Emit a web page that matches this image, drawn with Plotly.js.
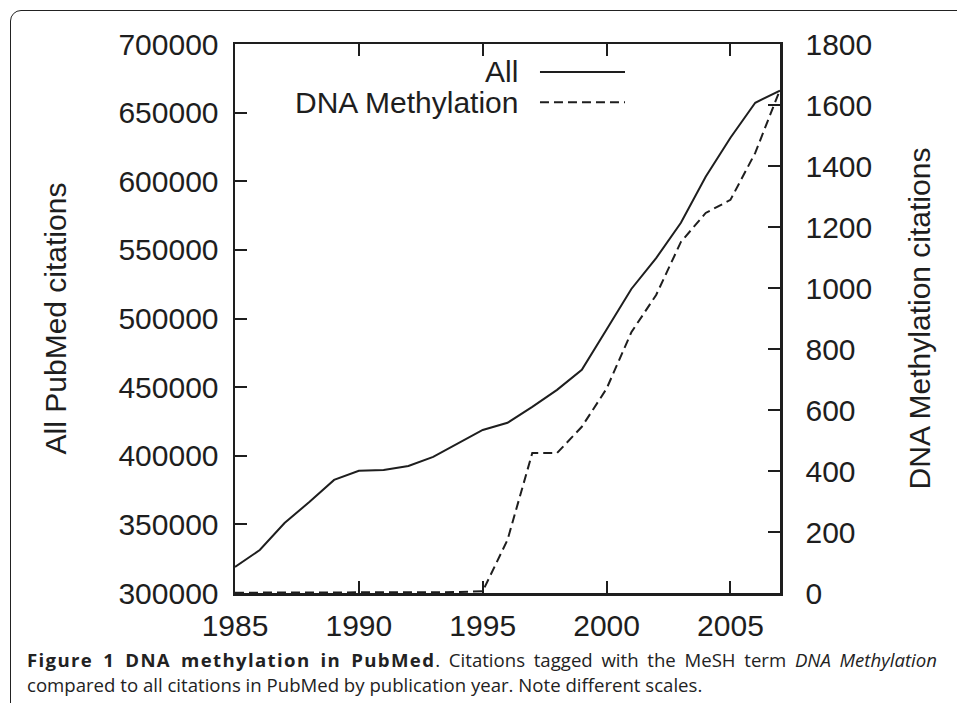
<!DOCTYPE html>
<html>
<head>
<meta charset="utf-8">
<script src="https://cdn.plot.ly/plotly-3.0.1.min.js"></script>
<style>
  html, body { margin:0; padding:0; width:957px; height:703px; overflow:hidden; background:#fff; }
  #frame { position:absolute; left:10px; top:10px; width:1000px; height:800px;
           border:1.5px solid #222; border-top-left-radius:11px; box-sizing:border-box; }
  #chart { position:absolute; left:0; top:0; width:957px; height:703px; }
  .cap { position:absolute; left:27px; font-family:"Open Sans", sans-serif; font-size:18.6px;
         color:#222; line-height:20px; }
  #cap1 { width:910px; text-align:justify; text-align-last:justify; }
  #cap1 b { letter-spacing:1.35px; }
  #cap2 { white-space:nowrap; }
</style>
</head>
<body>
<div id="frame"></div>
<div id="chart"></div>
<div class="cap" id="cap1" style="top:650px;"><b>Figure 1 DNA methylation in PubMed</b>. Citations tagged with the MeSH term <i>DNA Methylation</i></div>
<div class="cap" id="cap2" style="top:675px;">compared to all citations in PubMed by publication year. Note different scales.</div>
<script>
const years = [1985,1986,1987,1988,1989,1990,1991,1992,1993,1994,1995,1996,1997,1998,1999,2000,2001,2002,2003,2004,2005,2006,2007];
const allCitations = [319000,331300,351000,366300,382400,389000,389700,392600,399200,409000,418800,424000,435600,448000,462600,492000,521500,544000,569700,603300,631700,657200,666000];
const dnaMethylation = [1,1,1,1,1,1,1,2,2,3,6,174,459,459,545,670,855,977,1151,1246,1289,1443,1650];
const xTicks = [1985,1990,1995,2000,2005];
const seriesNames = ["All","DNA Methylation"];

const ink = "#1e1e1e";
const fnt = {family:"Liberation Sans, Arial, sans-serif", size:30, color:ink};

const traces = [
  {x:years, y:allCitations, type:"scatter", mode:"lines", name:seriesNames[0],
   line:{color:ink, width:2}, yaxis:"y", showlegend:false},
  {x:years, y:dnaMethylation, type:"scatter", mode:"lines", name:seriesNames[1],
   line:{color:ink, width:2, dash:"9px,5px"}, yaxis:"y2", showlegend:false}
];

const axisCommon = {showline:true, linecolor:ink, linewidth:2.5, ticks:"inside", ticklen:12,
  tickwidth:2, tickcolor:ink, showgrid:false, zeroline:false, tickfont:fnt, fixedrange:true};

const layout = {
  width:957, height:703,
  margin:{l:235, r:177, t:44, b:110, pad:0},
  paper_bgcolor:"rgba(0,0,0,0)", plot_bgcolor:"rgba(0,0,0,0)",
  font:fnt,
  xaxis:Object.assign({}, axisCommon, {range:[1985,2007], tickvals:xTicks, mirror:"ticks", ticklabelstandoff:4}),
  yaxis:Object.assign({}, axisCommon, {range:[300000,700000], dtick:50000, tick0:300000, tickformat:"d",
    ticklabelstandoff:8, title:{text:"All PubMed citations", font:fnt, standoff:43}}),
  yaxis2:Object.assign({}, axisCommon, {range:[0,1800], dtick:200, tick0:0, tickformat:"d",
    overlaying:"y", side:"right", ticklabelstandoff:17,
    title:{text:"DNA Methylation citations", font:fnt, standoff:38}}),
  annotations:[
    {xref:"paper", yref:"paper", x:0.523, y:0.949, xanchor:"right", yanchor:"middle",
     text:seriesNames[0], showarrow:false, font:fnt},
    {xref:"paper", yref:"paper", x:0.523, y:0.894, xanchor:"right", yanchor:"middle",
     text:seriesNames[1], showarrow:false, font:fnt}
  ],
  shapes:[
    {type:"line", xref:"paper", yref:"paper", x0:0.5596, x1:0.7156, y0:0.949, y1:0.949,
     line:{color:ink, width:2}},
    {type:"line", xref:"paper", yref:"paper", x0:0.5596, x1:0.7156, y0:0.894, y1:0.894,
     line:{color:ink, width:2, dash:"9px,5px"}}
  ]
};

Plotly.newPlot("chart", traces, layout, {displayModeBar:false, staticPlot:true});
</script>
</body>
</html>
